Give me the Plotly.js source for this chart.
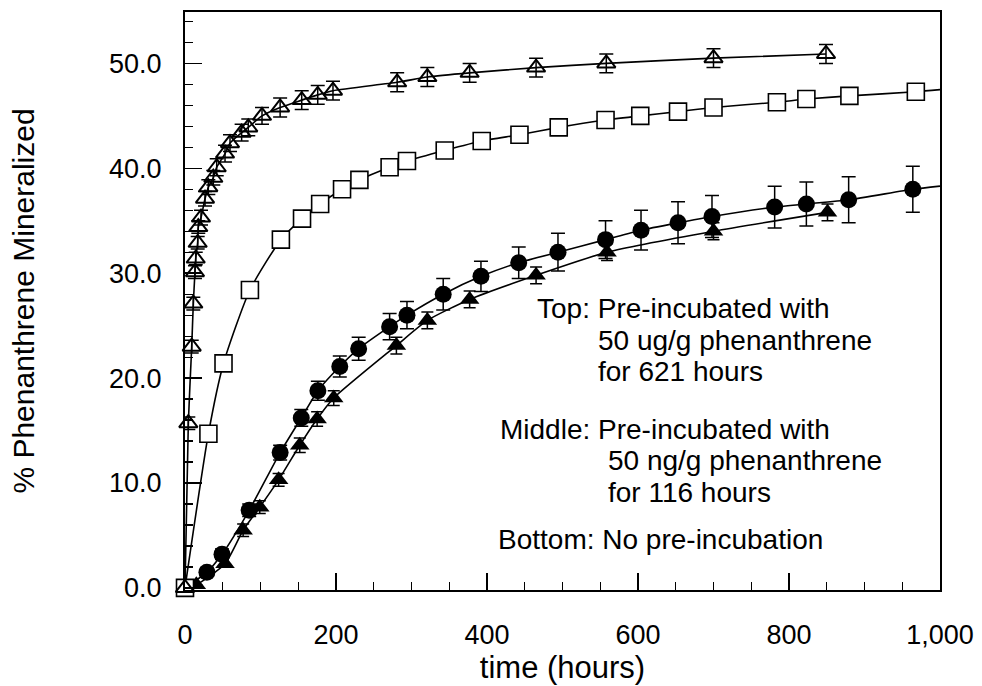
<!DOCTYPE html>
<html>
<head>
<meta charset="utf-8">
<script src="https://cdn.plot.ly/plotly-3.0.1.min.js"></script>
<style>html,body{margin:0;padding:0;background:#fff;}#chart{width:982px;height:686px;}</style>
</head>
<body>
<div id="chart"></div>
<script>
// Top: pre-incubated with 50 ug/g (open triangles)
const topX = [0, 4.4, 8.9, 11, 13.2, 14.2, 16.8, 17.6, 21.2, 26.5, 30.9, 37.5, 42, 53, 59.6, 75, 83.8, 102, 126, 154.6, 175.8, 196, 281, 321, 377, 465, 558, 700, 849];
const topY = [0, 15.7, 23.0, 27.1, 30.1, 31.4, 32.9, 34.4, 35.3, 37.1, 38.2, 39.1, 40.1, 41.4, 42.4, 43.4, 43.9, 45.0, 45.8, 46.5, 47.0, 47.4, 48.2, 48.7, 49.1, 49.6, 50.0, 50.5, 50.9];
const topErr = [0, 0.6, 0.6, 0.6, 0.6, 0.6, 0.6, 0.6, 0.7, 0.7, 0.7, 0.7, 0.8, 0.8, 0.8, 0.8, 0.8, 0.8, 0.9, 0.9, 0.9, 0.9, 0.9, 0.9, 0.9, 0.9, 0.9, 0.9, 0.9];

// Middle: pre-incubated with 50 ng/g (open squares)
const midX = [0, 31, 51, 86, 127, 155, 179, 208, 231, 271, 294, 344, 393, 443, 495, 557, 603, 653, 700, 784, 823, 880, 968];
const midY = [0, 14.7, 21.4, 28.4, 33.2, 35.2, 36.6, 38.0, 38.9, 40.1, 40.7, 41.7, 42.6, 43.2, 43.9, 44.6, 45.0, 45.4, 45.8, 46.3, 46.6, 46.9, 47.3];
const midCurveEndX = 1000, midCurveEndY = 47.5;

// Bottom: no pre-incubation (filled circles and filled triangles)
const circX = [0, 29, 49, 85, 126, 154, 176, 205, 230, 271, 294, 342, 392, 442, 494, 557, 604, 653, 698, 781, 823, 879, 964];
const circY = [0, 1.5, 3.2, 7.4, 12.9, 16.2, 18.8, 21.1, 22.8, 24.9, 26.0, 28.0, 29.7, 31.0, 32.0, 33.2, 34.1, 34.8, 35.4, 36.3, 36.6, 37.0, 38.0];
const circErr = [0, 0.4, 0.5, 0.6, 0.7, 0.8, 0.9, 1.0, 1.1, 1.25, 1.3, 1.5, 1.45, 1.5, 1.8, 1.8, 1.9, 2.0, 2.0, 2.0, 2.1, 2.2, 2.2];
const circCurveEndX = 1000, circCurveEndY = 38.3;

const triX = [0, 15, 53, 77, 99, 124, 152, 175, 197, 280, 321, 377, 465, 559, 700, 851];
const triY = [0, 0.3, 2.3, 5.5, 7.7, 10.3, 13.6, 16.1, 18.1, 23.1, 25.5, 27.5, 29.8, 32.0, 34.0, 35.8];
const triErr = [0, 0, 0, 0.6, 0.6, 0.6, 0.7, 0.7, 0.7, 0.8, 0.8, 0.8, 0.8, 0.8, 0.8, 0.8];

const xTickVals = [0, 200, 400, 600, 800, 1000];
const xTickText = ['0', '200', '400', '600', '800', '1,000'];
const yTickVals = [0, 10, 20, 30, 40, 50];
const yTickText = ['0.0', '10.0', '20.0', '30.0', '40.0', '50.0'];

const noteLines = [
  {text: 'Top: Pre-incubated with', x: 465},
  {text: '50 ug/g phenanthrene', x: 546},
  {text: 'for 621 hours', x: 546},
  {text: 'Middle: Pre-incubated with', x: 416},
  {text: '50 ng/g phenanthrene', x: 559},
  {text: 'for 116 hours', x: 559},
  {text: 'Bottom: No pre-incubation', x: 413}
];
const noteY = [26.6, 23.6, 20.6, 15.1, 12.1, 9.1, 4.6];

const FONT = 'Liberation Sans, Arial, Helvetica, sans-serif';
const lineStyle = {color: '#000', width: 1.6, shape: 'spline', smoothing: 0.6};

const traces = [
  // curves
  {x: topX, y: topY, mode: 'lines', line: lineStyle, hoverinfo: 'skip', showlegend: false},
  {x: midX.concat([midCurveEndX]), y: midY.concat([midCurveEndY]), mode: 'lines', line: lineStyle, hoverinfo: 'skip', showlegend: false},
  {x: circX.concat([circCurveEndX]), y: circY.concat([circCurveEndY]), mode: 'lines', line: lineStyle, hoverinfo: 'skip', showlegend: false},
  {x: triX, y: triY, mode: 'lines', line: lineStyle, hoverinfo: 'skip', showlegend: false},
  // markers
  {x: triX, y: triY, mode: 'markers', cliponaxis: false, showlegend: false,
   marker: {symbol: 'triangle-up', size: 17, color: '#000', line: {color: '#000', width: 0}},
   error_y: {type: 'data', array: triErr, visible: true, color: '#000', thickness: 1.5, width: 6}},
  {x: circX, y: circY, mode: 'markers', cliponaxis: false, showlegend: false,
   marker: {symbol: 'circle', size: 17, color: '#000', line: {color: '#000', width: 0}},
   error_y: {type: 'data', array: circErr, visible: true, color: '#000', thickness: 1.5, width: 7}},
  {x: midX, y: midY, mode: 'markers', cliponaxis: false, showlegend: false,
   marker: {symbol: 'square', size: 17, color: '#fff', line: {color: '#000', width: 1.6}}},
  {x: topX, y: topY, mode: 'markers', cliponaxis: false, showlegend: false,
   marker: {symbol: 'triangle-up-open', size: 16, color: '#000', line: {color: '#000', width: 2}},
   error_y: {type: 'data', array: topErr, visible: true, color: '#000', thickness: 1.5, width: 7}}
];

const annotations = noteLines.map((n, i) => ({
  text: n.text, x: n.x, y: noteY[i], xref: 'x', yref: 'y',
  xanchor: 'left', yanchor: 'middle', showarrow: false, borderpad: 0,
  font: {family: FONT, size: 28, color: '#000'}
}));

const layout = {
  width: 982, height: 686,
  margin: {l: 185, r: 42, t: 12, b: 96},
  paper_bgcolor: '#fff', plot_bgcolor: '#fff',
  font: {family: FONT, color: '#000'},
  showlegend: false,
  xaxis: {
    range: [0, 1000], showgrid: false, zeroline: false,
    showline: true, mirror: true, linecolor: '#000', linewidth: 2,
    ticks: 'inside', ticklen: 17, tickwidth: 1.5, tickcolor: '#000',
    tickvals: xTickVals, ticktext: xTickText,
    minor: {dtick: 50, tick0: 0, ticks: 'inside', ticklen: 8, tickwidth: 1.2, tickcolor: '#000'},
    tickfont: {family: FONT, size: 27, color: '#000'},
    ticklabelstandoff: 20,
    title: {text: 'time (hours)', font: {family: FONT, size: 31, color: '#000'}, standoff: 0}
  },
  yaxis: {
    range: [-0.2, 54.9], showgrid: false, zeroline: false,
    showline: true, mirror: true, linecolor: '#000', linewidth: 2,
    ticks: 'inside', ticklen: 17, tickwidth: 1.5, tickcolor: '#000',
    tickvals: yTickVals, ticktext: yTickText,
    minor: {dtick: 2, tick0: 0, ticks: 'inside', ticklen: 8, tickwidth: 1.2, tickcolor: '#000'},
    tickfont: {family: FONT, size: 27, color: '#000'},
    ticklabelstandoff: 16,
    title: {text: '% Phenanthrene Mineralized', font: {family: FONT, size: 30, color: '#000'}, standoff: 66}
  },
  annotations: annotations
};

Plotly.newPlot('chart', traces, layout, {displayModeBar: false, staticPlot: true});
</script>
</body>
</html>
